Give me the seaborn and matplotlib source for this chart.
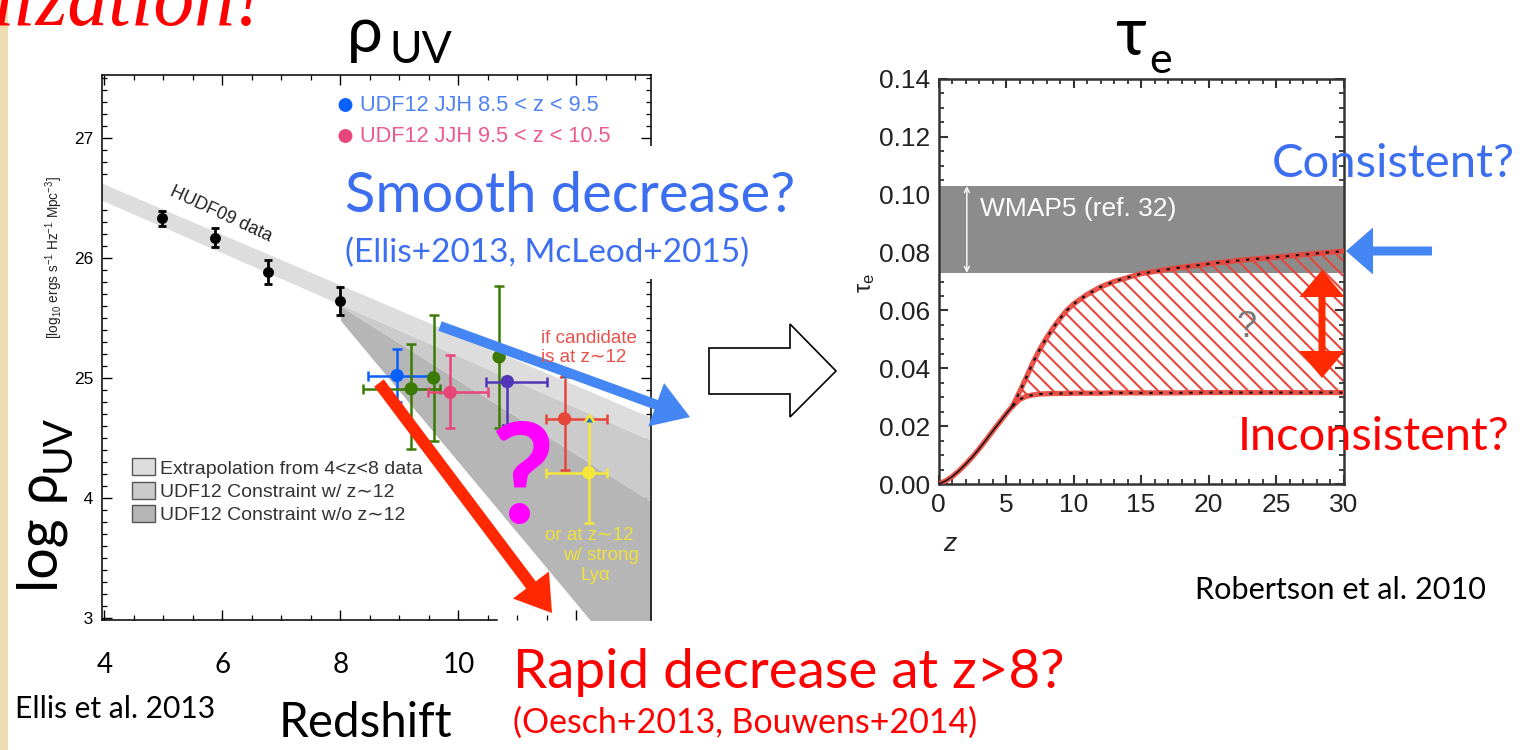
import matplotlib
matplotlib.use("Agg")
import numpy as np
import matplotlib.pyplot as plt
import matplotlib.patches as mpatches
from matplotlib.ticker import MultipleLocator, FixedLocator, FormatStrFormatter
import seaborn as sns

sns.set_style("white")
SLIDE = ["Lato", "Noto Sans", "DejaVu Sans"]
CHART = ["Liberation Sans", "DejaVu Sans"]
plt.rcParams.update({
    "font.family": CHART,
    "mathtext.fontset": "custom",
    "mathtext.rm": "Liberation Sans",
    "mathtext.it": "Liberation Sans:italic",
})

W, H, DPI = 1528, 750, 100

# ---------------- Left panel data (Ellis et al. 2013) ----------------
hudf_z = [4.97, 5.88, 6.78, 8.00]
hudf_rho = [26.33, 26.17, 25.88, 25.64]
hudf_err = [0.06, 0.08, 0.10, 0.115]

udf_z = [8.96, 9.20, 9.58, 10.69, 9.86, 10.83, 11.80, 12.21]
udf_rho = [25.02, 24.91, 25.00, 25.175, 24.88, 24.97, 24.66, 24.21]
udf_ylo = [0.22, 0.50, 0.525, 0.595, 0.30, 0.35, 0.43, 0.42]
udf_yhi = [0.22, 0.37, 0.525, 0.595, 0.31, 0.00, 0.34, 0.42]
udf_xlo = [0.49, 0.81, 0.0, 0.0, 0.37, 0.36, 0.31, 0.72]
udf_xhi = [0.57, 0.49, 0.0, 0.0, 0.64, 0.67, 0.72, 0.31]
udf_limit = ["", "", "", "", "", "upper", "lower", "lower"]
udf_colors = ["#0a5fff", "#3b7a05", "#3b7a05", "#3b7a05",
              "#e8457a", "#5236b8", "#e8453a", "#f5e63a"]

band_z = [3.95, 13.27]
extrap_top = [26.625, 24.67]
extrap_bot = [26.483, 24.48]
constr_z = [8.0, 13.27]
with12_bot = [25.60, 23.97]
wo12_bot = [25.48, 22.37]
band_colors = ["#dddddd", "#cbcbcb", "#b6b6b6"]
band_labels = ["Extrapolation from 4<z<8 data", "UDF12 Constraint w/ z\u223c12",
               "UDF12 Constraint w/o z\u223c12"]

left_xticks = [4, 6, 8, 10, 12]
left_xticklabels = ["4", "6", "8", "10", ""]
left_yticks = [23, 24, 25, 26, 27]

# ---------------- Right panel data (Robertson et al. 2010) ----------------
wmap_tau = [0.073, 0.103]
tau_z_common = [0, 0.5, 1, 1.5, 2, 2.5, 3, 3.5, 4, 4.5, 5, 5.5]
tau_common = [0, 0.001, 0.0025, 0.0045, 0.0068, 0.0093, 0.0121, 0.0151,
              0.0182, 0.0212, 0.0242, 0.0270]
tau_z_split = [5.5, 6, 6.5, 7, 7.5, 8, 8.5, 9, 9.5, 10, 11, 12, 13, 15,
               17.5, 20, 22.5, 25, 27.5, 30]
tau_upper = [0.0270, 0.0318, 0.0368, 0.0420, 0.0465, 0.0505, 0.0540, 0.0572,
             0.0600, 0.0622, 0.0655, 0.0681, 0.0700, 0.0727, 0.0746, 0.0761,
             0.0774, 0.0784, 0.0795, 0.0805]
tau_lower = [0.0270, 0.0292, 0.0303, 0.0308, 0.0311, 0.0312, 0.0313, 0.0313,
             0.0313, 0.0314, 0.0314, 0.0314, 0.0315, 0.0315, 0.0315, 0.0316,
             0.0316, 0.0316, 0.0316, 0.0316]

fig = plt.figure(figsize=(W / DPI, H / DPI), dpi=DPI, facecolor="white")


def px_axes(left, top, right, bottom, **kw):
    return fig.add_axes([left / W, 1 - bottom / H, (right - left) / W,
                         (bottom - top) / H], **kw)


axL = px_axes(101.5, 75, 651, 620)
axR = px_axes(938.5, 79, 1343.5, 484)
ov = fig.add_axes([0, 0, 1, 1], zorder=10)

# ================= Left panel =================
axL.set_xlim(3.95, 13.265)
axL.set_ylim(22.983, 27.525)
extrap_bot_c = np.interp(constr_z, band_z, extrap_bot)
axL.fill_between(constr_z, wo12_bot, with12_bot, color=band_colors[2], lw=0, zorder=1)
axL.fill_between(constr_z, with12_bot, extrap_bot_c, color=band_colors[1], lw=0, zorder=1)
axL.fill_between(band_z, extrap_bot, extrap_top, color=band_colors[0], lw=0, zorder=1)

axL.errorbar(hudf_z, hudf_rho, yerr=hudf_err, fmt="none", ecolor="black",
             elinewidth=2.0, capsize=3, capthick=2.0, zorder=3)
sns.scatterplot(x=hudf_z, y=hudf_rho, ax=axL, color="black", s=62,
                linewidth=0, zorder=4, legend=False)

for i in range(len(udf_z)):
    c = udf_colors[i]
    xe = None if udf_xlo[i] == 0 and udf_xhi[i] == 0 else [[udf_xlo[i]], [udf_xhi[i]]]
    common = dict(fmt="none", ecolor=c, elinewidth=1.8, capsize=3.3, capthick=1.8, zorder=3)
    if udf_limit[i] == "upper":
        axL.errorbar([udf_z[i]], [udf_rho[i]], xerr=xe, yerr=[[udf_ylo[i]], [0]],
                     uplims=True, **common)
    elif udf_limit[i] == "lower":
        axL.errorbar([udf_z[i]], [udf_rho[i]], xerr=xe, yerr=[[udf_ylo[i]], [0]], **common)
        axL.errorbar([udf_z[i]], [udf_rho[i]], yerr=[[0], [udf_yhi[i]]],
                     lolims=True, **common)
    else:
        axL.errorbar([udf_z[i]], [udf_rho[i]], xerr=xe,
                     yerr=[[udf_ylo[i]], [udf_yhi[i]]], **common)
sns.scatterplot(x=udf_z, y=udf_rho, hue=list(range(len(udf_z))),
                palette=udf_colors, ax=axL, s=92, linewidth=0, zorder=4, legend=False)

axL.xaxis.set_major_locator(FixedLocator(left_xticks))
axL.xaxis.set_minor_locator(MultipleLocator(0.5))
axL.yaxis.set_major_locator(FixedLocator(left_yticks))
axL.yaxis.set_minor_locator(MultipleLocator(0.1))
axL.set_xticklabels(left_xticklabels)
axL.tick_params(which="both", direction="in", top=True, right=True,
                bottom=True, left=True, colors="black")
axL.tick_params(which="major", length=7, width=1.0)
axL.tick_params(which="minor", length=3.6, width=0.9)
axL.tick_params(axis="x", which="major", pad=23, labelsize=20)
axL.tick_params(axis="y", which="major", pad=6, labelsize=12.5)
for lab in axL.get_xticklabels():
    lab.set_fontfamily(SLIDE)
for sp in axL.spines.values():
    sp.set_color("black")
    sp.set_linewidth(1.1)
axL.spines["bottom"].set_bounds(3.95, 10.66)
axL.set_facecolor("white")

# ================= Right panel =================
axR.set_xlim(0, 30)
axR.set_ylim(0, 0.14)
axR.axhspan(wmap_tau[0], wmap_tau[1], color="#8c8c8c", lw=0, zorder=1)
region = axR.fill_between(tau_z_split, tau_lower, tau_upper, facecolor="none",
                          linewidth=0, zorder=2)
# diagonal hatching (about 15 px apart), clipped to the uncertainty region
bb = axR.get_window_extent(renderer=fig.canvas.get_renderer())
px_per_z = bb.width / 30.0
px_per_tau = bb.height / 0.14
slope = px_per_z / px_per_tau
step = 15.0 / px_per_tau
clip_path = region.get_paths()[0]
for c0 in np.arange(0.02, 0.0805 + slope * 30 + step, step):
    hl, = axR.plot([0, 30], [c0, c0 - slope * 30], color="#e8453c", lw=1.5,
                   zorder=2, solid_capstyle="butt")
    hl.set_clip_path(clip_path, region.get_transform())

red_kw = dict(color="#e8453c", linewidth=3.8, alpha=0.92, zorder=3)
sns.lineplot(x=tau_z_common, y=tau_common, ax=axR, **red_kw)
sns.lineplot(x=tau_z_split, y=tau_upper, ax=axR, **red_kw)
sns.lineplot(x=tau_z_split, y=tau_lower, ax=axR, **red_kw)
axR.plot(tau_z_common, tau_common, color="#111111", lw=1.1, zorder=4)
for yy in (tau_upper, tau_lower):
    axR.plot(tau_z_split, yy, color="#111111", lw=1.5, zorder=4,
             linestyle=(0, (1.6, 3.2)))
axR.annotate("", xy=(2.1, wmap_tau[1]), xytext=(2.1, wmap_tau[0]),
             arrowprops=dict(arrowstyle="<->", color="white", lw=1.0,
                             shrinkA=0, shrinkB=0, mutation_scale=9), zorder=5)
axR.text(3.05, 0.0951, "WMAP5 (ref. 32)", color="white", fontsize=19,
         va="center", ha="left", zorder=5)
axR.text(22.8, 0.054, "?", color="#7a7a7a", fontsize=26, ha="center",
         va="center", zorder=5)

axR.xaxis.set_major_locator(MultipleLocator(5))
axR.xaxis.set_minor_locator(MultipleLocator(1))
axR.yaxis.set_major_locator(MultipleLocator(0.02))
axR.yaxis.set_minor_locator(MultipleLocator(0.005))
axR.yaxis.set_major_formatter(FormatStrFormatter("%.2f"))
axR.tick_params(which="both", direction="in", top=True, right=True,
                bottom=True, left=True, colors="#333333")
axR.tick_params(which="major", length=6.5, width=1.5, labelsize=19,
                labelcolor="#222222")
axR.tick_params(which="minor", length=3.3, width=1.3)
axR.tick_params(axis="x", which="major", pad=6.5)
axR.tick_params(axis="y", which="major", pad=6)
for sp in axR.spines.values():
    sp.set_color("#333333")
    sp.set_linewidth(1.8)
axR.set_facecolor("white")

# ================= Slide overlay (pixel coordinates) =================
ov.set_xlim(0, W)
ov.set_ylim(H, 0)
ov.set_axis_off()
ov.patch.set_alpha(0)
renderer = fig.canvas.get_renderer()


def put(x, y, s, size=20, width=None, measure=None, family=SLIDE, **kw):
    kw.setdefault("ha", "left")
    kw.setdefault("va", "baseline")
    t = ov.text(x, y, s, fontsize=size, family=family, **kw)
    if width is not None:
        if measure is None:
            w = t.get_window_extent(renderer).width
        else:
            m = ov.text(0, 0, measure, fontsize=size, family=family,
                        style=kw.get("style", "normal"),
                        weight=kw.get("weight", "normal"))
            w = m.get_window_extent(renderer).width
            m.remove()
        t.set_fontsize(size * width / w)
    return t


def arrow(x0, y0, x1, y1, width, hw, hl, color):
    ov.add_patch(mpatches.FancyArrow(x0, y0, x1 - x0, y1 - y0, width=width,
                                     head_width=hw, head_length=hl,
                                     length_includes_head=True, color=color, lw=0))


# beige slide edge
ov.add_patch(mpatches.Rectangle((0, 0), 8, H, color="#efdcb0", lw=0))
# white text boxes covering parts of the chart images
ov.add_patch(mpatches.Rectangle((341, 146), 460, 133, fc="white", lw=0))
ov.add_patch(mpatches.Rectangle((12, 395), 72, 232, fc="white", lw=0))

# top-left title fragment
put(262, 25, "Reionization!", size=50, width=249, measure="ization!",
    family=["Liberation Serif", "DejaVu Serif"], style="italic",
    color="#ff0000", ha="right")

# panel titles
put(347, 52, "\u03c1", size=46, color="black")
put(389, 63, "UV", size=32, color="black")
put(1115, 55, "\u03c4", size=48, color="black")
put(1149, 73, "e", size=31, color="black")

# left y-label
t1 = ov.text(58, 592, "log \u03c1", fontsize=40, family=SLIDE, rotation=90,
             rotation_mode="anchor", ha="left", va="baseline", color="black")
w1 = t1.get_window_extent(renderer).height
ov.text(70, 592 - w1 - 1, "UV", fontsize=29, family=SLIDE, rotation=90,
        rotation_mode="anchor", ha="left", va="baseline", color="black")
ov.text(54, 258, r"[log$_{10}$ ergs s$^{-1}$ Hz$^{-1}$ Mpc$^{-3}$]", fontsize=9.8,
        family=CHART, rotation=90, ha="center", va="center", color="#222222")

# legend at top of left chart
ov.scatter([345.5, 345.5], [105, 136], s=100, c=[udf_colors[0], udf_colors[4]],
           linewidths=0, zorder=5)
tl = put(360, 111, "UDF12 JJH 8.5 < z < 9.5", size=15, width=240, family=CHART,
         color="#4f82f2")
put(360, 142, "UDF12 JJH 9.5 < z < 10.5", size=tl.get_fontsize(), family=CHART,
    color="#ec5b8a")

# shaded-band legend
for k, (yy, lab) in enumerate(zip([458, 482, 505], band_labels)):
    ov.add_patch(mpatches.Rectangle((132, yy), 22.5, 17, fc=band_colors[k],
                                    ec="#555555", lw=1.0))
lt = put(160, 473.5, band_labels[0], size=14, width=263, family=CHART, color="#333333")
put(160, 497, band_labels[1], size=lt.get_fontsize(), family=CHART, color="#333333")
put(160, 520.5, band_labels[2], size=lt.get_fontsize(), family=CHART, color="#333333")

ov.text(220.5, 214, "HUDF09 data", rotation=-25, rotation_mode="anchor",
        ha="center", va="center", fontsize=13, family=CHART, color="#222222")

ct = put(541, 343, "if candidate", size=13.5, width=96, family=CHART, color="#e8504a")
fs_small = ct.get_fontsize()
put(541, 362.5, "is at z\u223c12", size=fs_small, family=CHART, color="#e8504a")
put(589, 540, "or at z\u223c12", size=fs_small, family=CHART, color="#efe03a", ha="center")
put(601, 560, "w/ strong", size=fs_small, family=CHART, color="#efe03a", ha="center")
put(595, 580, "Ly\u03b1", size=fs_small, family=CHART, color="#efe03a", ha="center")

# annotation arrows
arrow(440, 326, 690, 417, 10, 46, 36, "#4487f4")
arrow(379, 383, 552, 613, 12, 45, 35, "#ff2800")
put(522, 523, "?", size=100, family=SLIDE, weight="bold", color="#ff00ff", ha="center")

# slide texts
put(345, 212, "Smooth decrease?", size=40, width=450, color="#3c6ef0")
put(345, 262, "(Ellis+2013, McLeod+2015)", size=24, width=405, color="#3c6ef0")
put(513, 688, "Rapid decrease at z>8?", size=40, width=552, color="#ff0000")
put(513, 733, "(Oesch+2013, Bouwens+2014)", size=24, width=465, color="#ff0000")
put(15, 718, "Ellis et al. 2013", size=18, width=200, color="black")
put(279, 737, "Redshift", size=36, width=174, color="black")
put(1195, 599, "Robertson et al. 2010", size=20, width=292, color="black")
put(1272, 177, "Consistent?", size=36, width=243, color="#3c6ef0")
put(1238, 450, "Inconsistent?", size=36, width=272, color="#ff0000")

# right panel axis labels
put(943, 551, "z", size=19, family=CHART, style="italic", color="#222222")
ov.text(866, 283, "\u03c4$_\\mathrm{e}$", fontsize=17, family=CHART, rotation=90,
        ha="center", va="center", color="#222222")

# arrows on the right panel
arrow(1322, 324, 1322, 270, 7, 45, 27, "#ff2a00")
arrow(1322, 324, 1322, 378, 7, 45, 27, "#ff2a00")
arrow(1432, 251, 1346, 251, 9, 47, 27, "#4487f4")

# outline block arrow between panels
ov.add_patch(mpatches.Polygon([(709, 348), (790, 348), (790, 324), (836, 371),
                               (790, 417), (790, 394), (709, 394)], closed=True,
                              fc="white", ec="black", lw=1.2))

fig.savefig("out.png", dpi=DPI, facecolor="white")
